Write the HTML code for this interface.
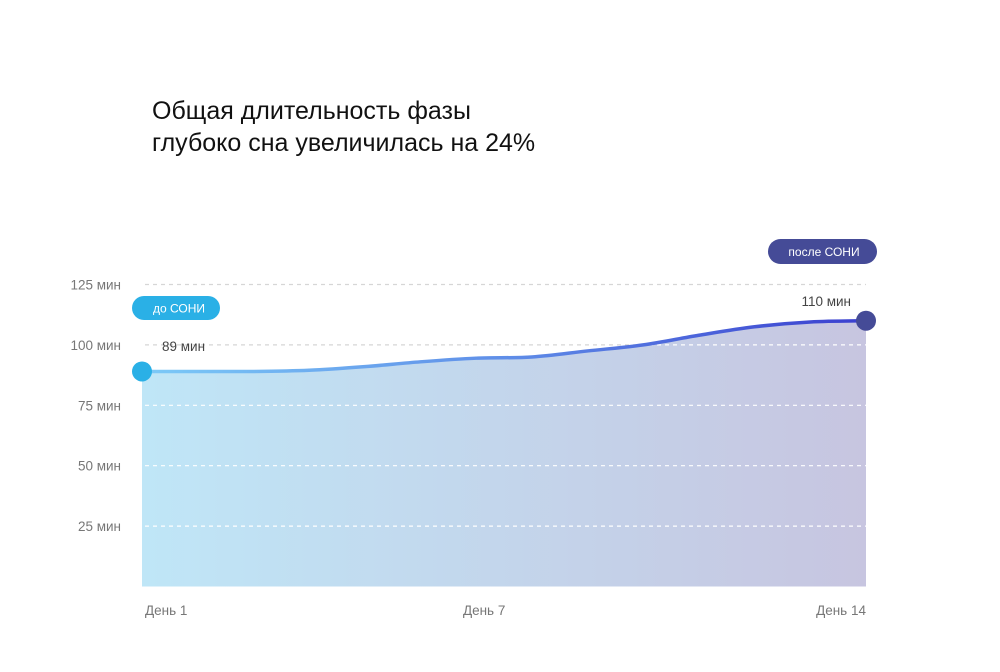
<!DOCTYPE html>
<html><head><meta charset="utf-8"><style>
body{margin:0;background:#fff;width:1000px;height:667px;overflow:hidden;font-family:"Liberation Sans",sans-serif}
</style></head><body>
<svg id="c" width="1000" height="667">
<defs>
<linearGradient id="fillg" x1="0" x2="1" y1="0" y2="0"><stop offset="0" stop-color="#bfe6f7"/><stop offset="1" stop-color="#c7c5e0"/></linearGradient>
<linearGradient id="lineg" x1="0" x2="1" y1="0" y2="0"><stop offset="0" stop-color="#7ccaf7"/><stop offset="0.5" stop-color="#5f8ee8"/><stop offset="1" stop-color="#3a3fcf"/></linearGradient>
<clipPath id="areaclip"><path id="clipp"/></clipPath>
</defs>
<text x="152" y="119" font-size="25" fill="#111">Общая длительность фазы</text>
<text x="152" y="151" font-size="25" fill="#111">глубоко сна увеличилась на 24%</text>
<g id="g"></g>
</svg>
<script>
const days=[1,2,3,4,5,6,7,8,9,10,11,12,13,14];
const values=[89,89,89,89.5,91,93,94.5,95,97.5,100,104,107.5,109.5,110];
const yTicks=[25,50,75,100,125];
const xLabels=[[1,"День 1"],[7,"День 7"],[14,"День 14"]];
const NS="http://www.w3.org/2000/svg",g=document.getElementById('g');
const X=d=>142+(d-1)*(724/13), Y=v=>586.5-v*2.416;
function mk(t,a,txt){const e=document.createElementNS(NS,t);for(const k in a)e.setAttribute(k,a[k]);if(txt!=null)e.textContent=txt;g.appendChild(e);return e;}
let pts=days.map((d,i)=>[X(d),Y(values[i])]);
let p="M"+pts[0][0]+","+pts[0][1];
for(let i=0;i<pts.length-1;i++){const p0=pts[Math.max(0,i-1)],p1=pts[i],p2=pts[i+1],p3=pts[Math.min(pts.length-1,i+2)];
p+=` C${p1[0]+(p2[0]-p0[0])/6},${p1[1]+(p2[1]-p0[1])/6} ${p2[0]-(p3[0]-p1[0])/6},${p2[1]-(p3[1]-p1[1])/6} ${p2[0]},${p2[1]}`;}
const areaD=p+` L${X(14)},${Y(0)} L${X(1)},${Y(0)} Z`;
document.getElementById('clipp').setAttribute('d',areaD);
yTicks.forEach(v=>{
 let l=mk('line',{x1:145,x2:866,y1:Y(v),y2:Y(v),stroke:'#d6d6d6',"stroke-width":1.2,"stroke-dasharray":"4 4"});
 
 
 let t=mk('text',{x:121,y:Y(v)+5,"text-anchor":"end","font-size":13.5,fill:'#777'},v+" мин");
 
 
});
let area=mk('path',{d:areaD,fill:'url(#fillg)'});


yTicks.forEach(v=>{
 let l=mk('line',{x1:145,x2:866,y1:Y(v),y2:Y(v),stroke:'#ffffff',"stroke-width":1.2,"stroke-dasharray":"4 4","clip-path":"url(#areaclip)"});
 
 
});
let line=mk('path',{d:p,fill:'none',stroke:'url(#lineg)',"stroke-width":3.5});


xLabels.forEach(([d,s],i)=>{
 let t=mk('text',{x:i==0?X(d)+3:(i==2?X(d):X(d)+8),y:615,"text-anchor":i==0?"start":(i==2?"end":"middle"),"font-size":13.5,fill:'#777'},s);
 
 
});
let c1=mk('circle',{cx:X(1),cy:Y(values[0]),r:10,fill:'#2ab0e6'});


let c2=mk('circle',{cx:X(14),cy:Y(values[13]),r:10,fill:'#454b97'});


let v1=mk('text',{x:162,y:351,"font-size":13.5,fill:'#444'},values[0]+" мин");


let v2=mk('text',{x:851,y:306,"text-anchor":"end","font-size":13.5,fill:'#444'},values[13]+" мин");


let b1=mk('rect',{x:132,y:296,width:88,height:24,rx:12,fill:'#2ab0e6'});


let bt1=mk('text',{x:179,y:312.5,"text-anchor":"middle","font-size":12,fill:'#fff'},"до СОНИ");


let b2=mk('rect',{x:768,y:239,width:109,height:25,rx:12.5,fill:'#454b97'});


let bt2=mk('text',{x:824,y:256,"text-anchor":"middle","font-size":12,fill:'#fff'},"после СОНИ");


</script>
</body></html>
